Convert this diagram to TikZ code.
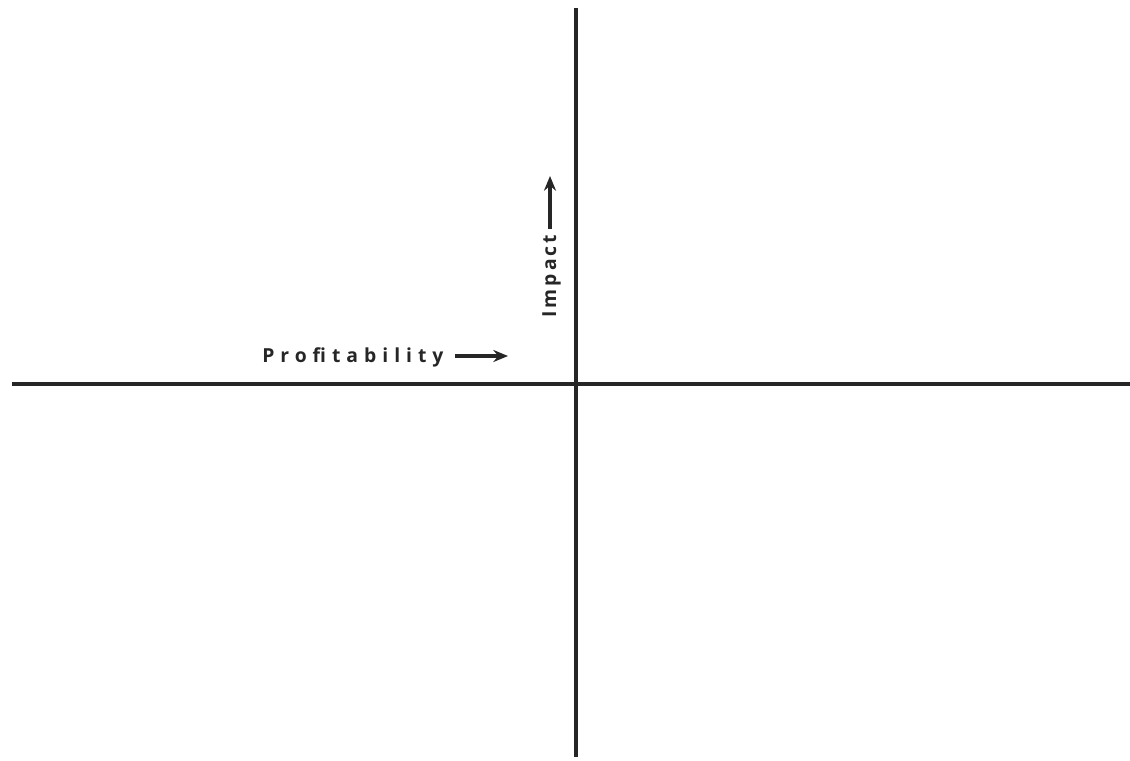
\documentclass[tikz,border=0pt]{standalone}
\usepackage{fontspec}
\setmainfont{Open Sans}
\usetikzlibrary{arrows.meta}
\begin{document}
\begin{tikzpicture}[x=0.75pt,y=-0.75pt,
  axis/.style={line width=2.4pt,draw=black!85},
  lbl/.style={font=\fontsize{14.5}{16}\selectfont\bfseries, text=black!85, inner sep=0pt},
  tip/.style={line width=2.6pt,draw=black!85,-{Stealth[length=11pt,width=9pt]}}]
\useasboundingbox (0,0) rectangle (1130,760);
\coordinate (vt) at (576,8);
\coordinate (vb) at (576,757);
\coordinate (hl) at (12,384);
\coordinate (hr) at (1130,384);
\draw[axis] (vt) -- (vb);
\draw[axis] (hl) -- (hr);
\node[lbl, anchor=base west] (prof) at (262,362) {\addfontfeatures{LetterSpace=31}Profitability};
\coordinate (pa) at (508,356);
\coordinate (ps) at (455,356);
\draw[tip] (ps) -- (pa);
\node[lbl, rotate=90, anchor=base west] (imp) at (556,318) {\addfontfeatures{LetterSpace=16}Impact};
\coordinate (ia) at (550,176);
\coordinate (is) at (550,229);
\draw[tip] (is) -- (ia);
\end{tikzpicture}
\end{document}
